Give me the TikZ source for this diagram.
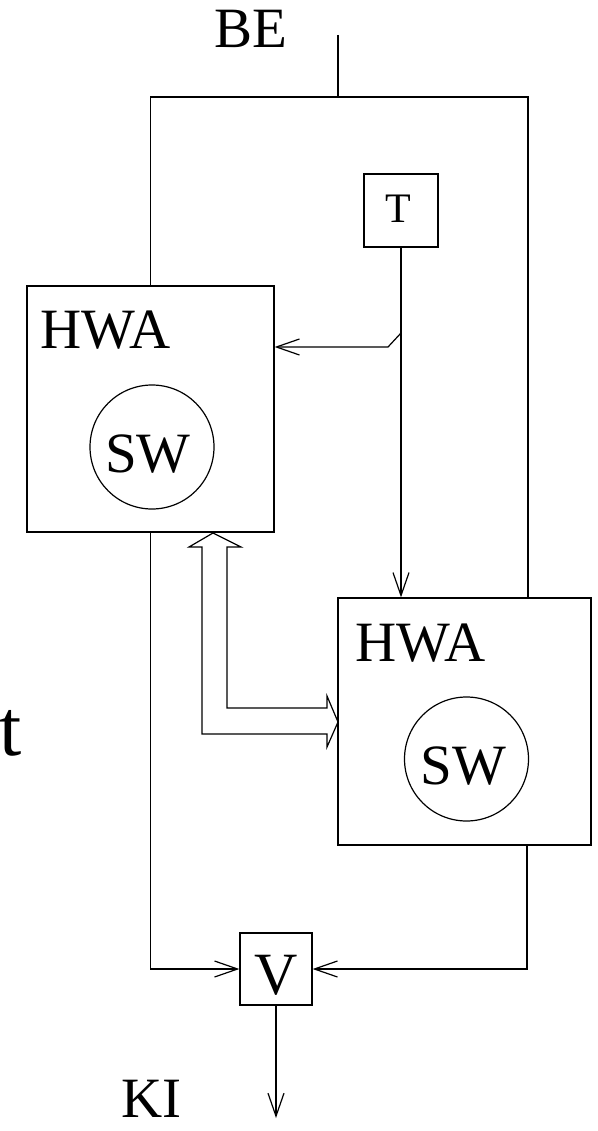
\documentclass[tikz,border=0pt]{standalone}
\usepackage{fontspec}
\setmainfont{Liberation Serif}
\usetikzlibrary{arrows.meta}
\begin{document}
\begin{tikzpicture}[x=1pt,y=-1pt,line width=1.2pt,
  arr/.style={-{Straight Barb[length=23pt,width=16pt,line width=1.2pt]}},
  blk/.style={draw,rectangle,inner sep=0pt},
  big/.style={font=\fontsize{57}{62}\selectfont,inner sep=0pt},
  tbig/.style={font=\fontsize{80}{90}\selectfont,inner sep=0pt}]
\useasboundingbox (0,0) rectangle (597,1131);
% boxes
\node[blk,minimum width=247pt,minimum height=246pt] (hwa1) at (150.5,409) {};
\node[blk,minimum width=253pt,minimum height=247pt] (hwa2) at (464.5,721.5) {};
\node[blk,minimum width=74pt,minimum height=73pt] (t) at (401,210.5) {};
\node[blk,minimum width=72pt,minimum height=72pt] (v) at (276,969) {};
\node[draw,circle,minimum size=124pt,inner sep=0pt] (sw1) at (152,447) {};
\node[draw,circle,minimum size=124pt,inner sep=0pt] (sw2) at (466.5,759) {};
% texts
\node[big,anchor=base west] (hwa1t) at (40,348) {HWA};
\node[big,anchor=base west] (hwa2t) at (355,661) {HWA};
\node[big] (sw1t) at (148,454) {SW};
\node[big] (sw2t) at (463.5,766) {SW};
\node[font=\fontsize{42}{48}\selectfont,inner sep=0pt] (tt) at (398.5,209) {T};
\node[font=\fontsize{60}{66}\selectfont,inner sep=0pt] (vt) at (276,975) {V};
\node[big,anchor=base west] (be) at (214,48) {BE};
\node[big,anchor=base west] (ki) at (121,1117) {KI};
\node[tbig,anchor=base west] (tl) at (-1,755) {t};
% coordinates
\coordinate (bein) at (338,35);
\coordinate (top) at (338,97);
\coordinate (br) at (401,333);
\coordinate (brk) at (388,347);
\coordinate (out) at (276,1118);
% connectors
\draw (bein) -- (top);
\draw (hwa1.north) |- (top) -| ([xshift=63.5pt]hwa2.north);
\draw[arr] (t.south) -- (t.south |- hwa2.north);
\draw[arr] (br) -- (brk) -- (brk -| hwa1.east);
\draw[arr] (hwa1.south) |- (v.west);
\draw[arr] ([xshift=62.5pt]hwa2.south) |- (v.east);
\draw[arr] (v.south) -- (out);
% hollow double arrow
\draw[line join=miter] (213,533) -- (241,547) -- (227,547) -- (227,708) -- (327,708) -- (327,696)
  -- (338,722) -- (327,747) -- (327,734) -- (202,734) -- (202,547) -- (189,547) -- cycle;
\end{tikzpicture}
\end{document}
